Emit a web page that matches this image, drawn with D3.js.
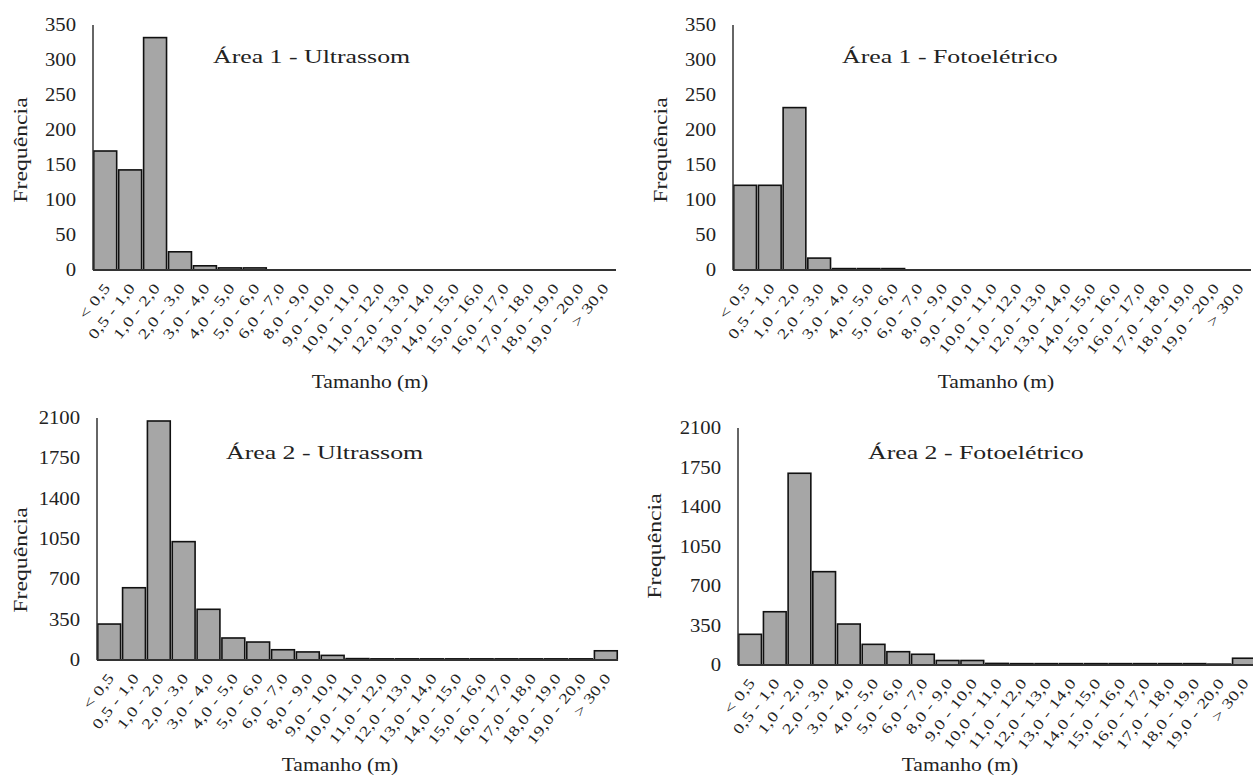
<!DOCTYPE html>
<html>
<head>
<meta charset="utf-8">
<script src="https://cdn.jsdelivr.net/npm/d3@7"></script>
<style>
  html, body { margin: 0; padding: 0; background: #fff; }
  svg { display: block; }
  text { font-family: "Liberation Serif", "Times New Roman", serif; fill: #222; }
</style>
</head>
<body>
<svg id="chart" width="1253" height="778"></svg>
<script>
// ---------- DATA ----------
const categories = ["< 0,5", "0,5 - 1,0", "1,0 - 2,0", "2,0 - 3,0", "3,0 - 4,0", "4,0 - 5,0",
  "5,0 - 6,0", "6,0 - 7,0", "8,0 - 9,0", "9,0 - 10,0", "10,0 - 11,0", "11,0 - 12,0",
  "12,0 - 13,0", "13,0 - 14,0", "14,0 - 15,0", "15,0 - 16,0", "16,0 - 17,0", "17,0 - 18,0",
  "18,0 - 19,0", "19,0 - 20,0", "> 30,0"];

const area1Ultrassom    = [170, 143, 332, 26, 6, 3, 3, 0, 0, 0, 0, 0, 0, 0, 0, 0, 0, 0, 0, 0, 0];
const area1Fotoeletrico = [121, 121, 232, 17, 2, 2, 2, 0, 0, 0, 0, 0, 0, 0, 0, 0, 0, 0, 0, 0, 0];
const area2Ultrassom    = [312, 627, 2074, 1027, 440, 191, 156, 89, 70, 40, 12, 10, 10, 10, 10, 10, 10, 10, 10, 10, 80];
const area2Fotoeletrico = [272, 472, 1699, 827, 363, 183, 118, 95, 40, 40, 14, 12, 12, 12, 12, 12, 12, 12, 12, 8, 60];

const yTicksArea1 = [0, 50, 100, 150, 200, 250, 300, 350];
const yTicksArea2 = [0, 350, 700, 1050, 1400, 1750, 2100];

const titles = ["Área 1 - Ultrassom", "Área 1 - Fotoelétrico", "Área 2 - Ultrassom", "Área 2 - Fotoelétrico"];
const xTitle = "Tamanho (m)";
const yTitle = "Frequência";

// ---------- LAYOUT ----------
const panels = [
  { values: area1Ultrassom,    ticks: yTicksArea1, title: titles[0], left: 93,  right: 616,  top: 25,  bottom: 270,
    titleX: 213, titleY: 63, xtX: 370, xtY: 388, ytX: 21, ytY: 150 },
  { values: area1Fotoeletrico, ticks: yTicksArea1, title: titles[1], left: 733, right: 1251, top: 25,  bottom: 270,
    titleX: 842, titleY: 63, xtX: 996, xtY: 388, ytX: 661, ytY: 150 },
  { values: area2Ultrassom,    ticks: yTicksArea2, title: titles[2], left: 97,  right: 618,  top: 418, bottom: 660,
    titleX: 226, titleY: 459, xtX: 340, xtY: 771, ytX: 21, ytY: 560 },
  { values: area2Fotoeletrico, ticks: yTicksArea2, title: titles[3], left: 738, right: 1256, top: 428, bottom: 665,
    titleX: 868, titleY: 459, xtX: 960, xtY: 771, ytX: 655, ytY: 546 }
];

const svg = d3.select("#chart");

panels.forEach(p => {
  const g = svg.append("g");
  const yMax = p.ticks[p.ticks.length - 1];

  const x = d3.scaleBand().domain(categories).range([p.left, p.right])
    .paddingInner(0.08).paddingOuter(0.03);
  const y = d3.scaleLinear().domain([0, yMax]).range([p.bottom, p.top]);

  // bars
  g.selectAll("rect.bar").data(categories.map((c, i) => ({ c, v: p.values[i] })))
    .enter().append("rect")
    .attr("class", "bar")
    .attr("x", d => x(d.c))
    .attr("width", x.bandwidth())
    .attr("y", d => y(d.v))
    .attr("height", d => Math.max(0, y(0) - y(d.v)))
    .attr("fill", "#a6a6a6")
    .attr("stroke", "#111")
    .attr("stroke-width", 1.6);

  // y axis line
  g.append("line")
    .attr("x1", p.left).attr("x2", p.left)
    .attr("y1", y(0)).attr("y2", y(yMax))
    .attr("stroke", "#333").attr("stroke-width", 1.5);

  // x axis line
  g.append("line")
    .attr("x1", p.left).attr("x2", p.right)
    .attr("y1", y(0)).attr("y2", y(0))
    .attr("stroke", "#333").attr("stroke-width", 2);

  // y tick labels
  g.selectAll("text.ytick").data(p.ticks).enter().append("text")
    .attr("class", "ytick")
    .attr("transform", d => `translate(${p.left - 17},${y(d)}) scale(1.15,1)`)
    .attr("text-anchor", "end")
    .attr("dominant-baseline", "central")
    .attr("font-size", 18)
    .text(d => d);

  // x tick labels
  g.selectAll("text.xtick").data(categories).enter().append("text")
    .attr("class", "xtick")
    .attr("transform", d => `translate(${x(d) + x.bandwidth() / 2 + 2},${y(0) + 15}) rotate(-52) scale(1.3,1)`)
    .attr("text-anchor", "end")
    .attr("dominant-baseline", "central")
    .attr("font-size", 14.5)
    .attr("letter-spacing", 0.3)
    .attr("fill", "#555")
    .text(d => d);

  // chart title
  g.append("text")
    .attr("transform", `translate(${p.titleX},${p.titleY}) scale(1.36,1)`)
    .attr("font-size", 19)
    .text(p.title);

  // x axis title
  g.append("text")
    .attr("transform", `translate(${p.xtX},${p.xtY}) scale(1.2,1)`)
    .attr("text-anchor", "middle")
    .attr("font-size", 18)
    .text(xTitle);

  // y axis title
  g.append("text")
    .attr("transform", `translate(${p.ytX},${p.ytY}) rotate(-90) scale(1.25,1)`)
    .attr("text-anchor", "middle")
    .attr("dominant-baseline", "central")
    .attr("font-size", 19)
    .text(yTitle);
});
</script>
</body>
</html>
